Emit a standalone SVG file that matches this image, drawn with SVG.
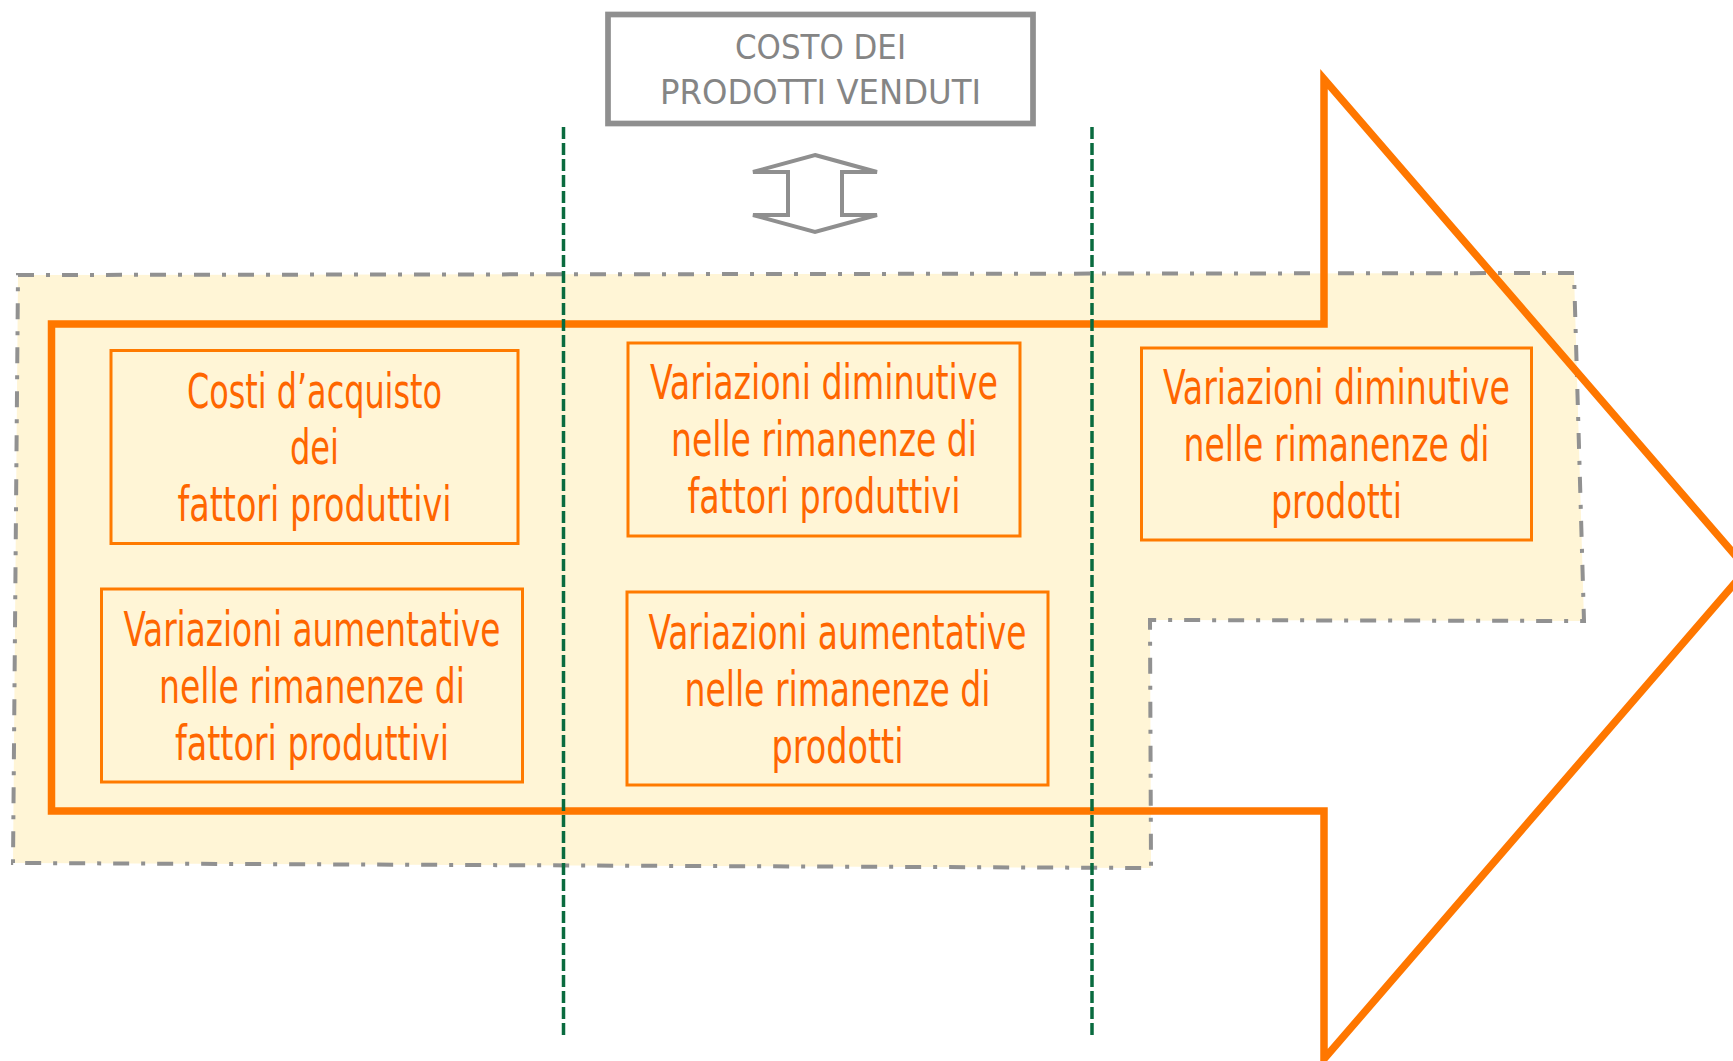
<svg xmlns="http://www.w3.org/2000/svg" width="1733" height="1061" viewBox="0 0 1733 1061">
<style>
.region{fill:#FFF5D6;stroke:#919191;stroke-width:4;stroke-dasharray:16 12 4 12;}
.bigarrow{fill:none;stroke:#FF7700;stroke-width:7.5;stroke-linejoin:miter;stroke-miterlimit:10;}
.box{fill:none;stroke:#FF7A00;stroke-width:3;}
.txt{font-family:"DejaVu Sans Condensed","Liberation Sans Narrow","Liberation Sans",sans-serif;font-size:48px;fill:#FF6600;text-anchor:middle;}
.gtxt{font-family:"DejaVu Sans Condensed","Liberation Sans",sans-serif;font-size:34px;fill:#858585;text-anchor:middle;}
.gbox{fill:#FFFFFF;stroke:#8F8F8F;stroke-width:5.7;}
.dbl{fill:#FFFFFF;stroke:#8F8F8F;stroke-width:4;stroke-linejoin:miter;}
.guide{stroke:#0A6B3F;stroke-width:3.5;stroke-dasharray:12 4;fill:none;}
</style>
<g id="region">
<polygon class="region" points="18,275 1574,273 1584,621 1150,620 1151,868 13,863"/>
</g>
<g id="flow-arrow">
<polygon class="bigarrow" points="51.5,324 1324,324 1324,79 1747,569 1324,1059 1324,811 51.5,811"/>
</g>
<g id="costo-venduti">
<rect class="gbox" x="608" y="14.5" width="425" height="109"/>
<text class="gtxt" x="820.5" y="59" textLength="171" lengthAdjust="spacingAndGlyphs">COSTO DEI</text>
<text class="gtxt" x="820.5" y="104" textLength="321" lengthAdjust="spacingAndGlyphs">PRODOTTI VENDUTI</text>
</g>
<g id="node-costi-acquisto">
<rect class="box" x="111" y="350.5" width="407" height="193"/>
<text class="txt" x="314.5" y="408" textLength="255" lengthAdjust="spacingAndGlyphs">Costi d’acquisto</text>
<text class="txt" x="314.5" y="464" textLength="49" lengthAdjust="spacingAndGlyphs">dei</text>
<text class="txt" x="314.5" y="521" textLength="274" lengthAdjust="spacingAndGlyphs">fattori produttivi</text>
</g>
<g id="node-aument-fattori">
<rect class="box" x="101.5" y="589" width="421" height="193"/>
<text class="txt" x="312" y="646" textLength="377" lengthAdjust="spacingAndGlyphs">Variazioni aumentative</text>
<text class="txt" x="312" y="703" textLength="306" lengthAdjust="spacingAndGlyphs">nelle rimanenze di</text>
<text class="txt" x="312" y="760" textLength="274" lengthAdjust="spacingAndGlyphs">fattori produttivi</text>
</g>
<g id="node-dimin-fattori">
<rect class="box" x="628" y="343" width="392" height="193"/>
<text class="txt" x="824" y="399" textLength="348" lengthAdjust="spacingAndGlyphs">Variazioni diminutive</text>
<text class="txt" x="824" y="456" textLength="306" lengthAdjust="spacingAndGlyphs">nelle rimanenze di</text>
<text class="txt" x="824" y="513" textLength="273" lengthAdjust="spacingAndGlyphs">fattori produttivi</text>
</g>
<g id="node-aument-prodotti">
<rect class="box" x="627" y="592" width="421" height="193"/>
<text class="txt" x="837.5" y="649" textLength="378" lengthAdjust="spacingAndGlyphs">Variazioni aumentative</text>
<text class="txt" x="837.5" y="706" textLength="306" lengthAdjust="spacingAndGlyphs">nelle rimanenze di</text>
<text class="txt" x="837.5" y="763" textLength="132" lengthAdjust="spacingAndGlyphs">prodotti</text>
</g>
<g id="node-dimin-prodotti">
<rect class="box" x="1141.5" y="348" width="390" height="192"/>
<text class="txt" x="1336.5" y="404" textLength="347" lengthAdjust="spacingAndGlyphs">Variazioni diminutive</text>
<text class="txt" x="1336.5" y="461" textLength="306" lengthAdjust="spacingAndGlyphs">nelle rimanenze di</text>
<text class="txt" x="1336.5" y="518" textLength="131" lengthAdjust="spacingAndGlyphs">prodotti</text>
</g>
<g id="connectors">
<polygon class="dbl" points="815,155 877,172 842,172 842,215 877,215 815,232 753,215 788,215 788,172 753,172"/>
<line class="guide" x1="563.5" y1="127" x2="563.5" y2="1035"/>
<line class="guide" x1="1092" y1="127" x2="1092" y2="1035"/>
</g>
</svg>
